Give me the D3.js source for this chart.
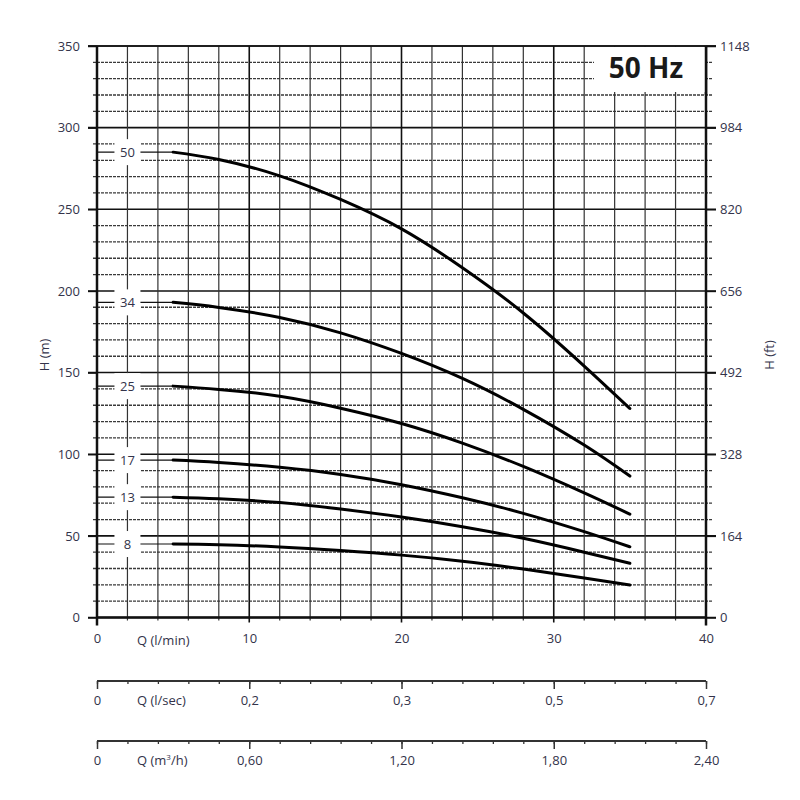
<!DOCTYPE html>
<html>
<head>
<meta charset="utf-8">
<script src="https://cdn.jsdelivr.net/npm/d3@7"></script>
<style>
  body { margin: 0; background: #fff; }
  svg { font-family: "Open Sans", "Noto Sans", sans-serif; }
</style>
</head>
<body>
<svg id="chart"></svg>
<script>
// data
let models = ['50', '34', '25', '17', '13', '8']
let qPoints = [5, 8, 12, 16, 20, 24, 28, 32, 35]
let head50 = [285, 280.5, 270.5, 256, 238, 214.2, 186.5, 154, 128]
let head34 = [193, 189.9, 183.7, 174.3, 161.7, 146.4, 127.5, 105.6, 86.6]
let head25 = [141.7, 139.7, 135.5, 128.2, 118.8, 106.8, 92.5, 76.3, 63.3]
let head17 = [96.4, 95, 92, 87.6, 81.3, 73.3, 63.8, 52.6, 43.3]
let head13 = [73.7, 72.7, 70.4, 66.4, 61.5, 55.6, 48.5, 40, 33.2]
let head8 = [45, 44.6, 43.2, 41, 38.2, 34.5, 29.7, 24.2, 19.9]
let heads = [head50, head34, head25, head17, head13, head8]

let hTicks = [0, 50, 100, 150, 200, 250, 300, 350]
let ftTicks = [0, 164, 328, 492, 656, 820, 984, 1148]
let lminTicks = [0, 10, 20, 30, 40]
let lsecLabels = ['0', '0,2', '0,3', '0,5', '0,7']
let m3hLabels = ['0', '0,60', '1,20', '1,80', '2,40']

let width = 800
let height = 800
let padLeft = 97
let padRight = 706
let padTop = 46
let padBottom = 617.5
let textColor = '#33334a'
let fontSize = '13px'

let svg = d3.select('#chart').attr('width', width).attr('height', height)

let xScale = d3.scaleLinear().domain([0, 40]).range([padLeft, padRight])
let yScale = d3.scaleLinear().domain([0, 350]).range([padBottom, padTop])
let ftScale = d3.scaleLinear().domain([0, 1148]).range([padBottom, padTop])

let minorQ = d3.range(0, 41, 2)
let minorH = d3.range(0, 351, 10)

let drawGrid = () => {
    let g = svg.append('g')

    // horizontal lines, every 10 m, solid every 50 m
    g.selectAll('line.h')
        .data(minorH)
        .enter()
        .append('line')
        .attr('x1', (d) => d % 50 == 0 ? padLeft - 9 : padLeft - 4)
        .attr('x2', (d) => d % 50 == 0 ? padRight + 10 : padRight + 6)
        .attr('y1', (d) => yScale(d))
        .attr('y2', (d) => yScale(d))
        .attr('stroke', (d) => d % 50 == 0 ? '#111' : '#3a3a3a')
        .attr('stroke-width', (d) => d % 50 == 0 ? 1.6 : 1.3)
        .attr('stroke-dasharray', (d) => d % 50 == 0 ? null : '3,1')

    // vertical lines, every 2 l/min
    g.selectAll('line.v')
        .data(minorQ)
        .enter()
        .append('line')
        .attr('x1', (d) => xScale(d))
        .attr('x2', (d) => xScale(d))
        .attr('y1', padTop)
        .attr('y2', (d) => d % 10 == 0 ? padBottom + 5 : padBottom + 3)
        .attr('stroke', (d) => d % 10 == 0 ? '#111' : '#333')
        .attr('stroke-width', (d) => d % 10 == 0 ? 1.6 : 1.2)

    // frame
    g.append('line').attr('x1', padLeft).attr('x2', padLeft).attr('y1', padTop).attr('y2', padBottom + 8)
        .attr('stroke', '#111').attr('stroke-width', 2.5)
    g.append('line').attr('x1', padRight).attr('x2', padRight).attr('y1', padTop).attr('y2', padBottom + 8)
        .attr('stroke', '#111').attr('stroke-width', 2.5)
    g.append('line').attr('x1', padLeft).attr('x2', padRight).attr('y1', padBottom).attr('y2', padBottom)
        .attr('stroke', '#111').attr('stroke-width', 2.5)
}

let styleAxis = (g) => {
    g.selectAll('text')
        .style('font-size', fontSize)
        .style('font-family', '"Open Sans", sans-serif')
        .attr('fill', textColor)
}

let genAxes = () => {
    let yAxis = d3.axisLeft(yScale).tickValues(hTicks).tickSize(9).tickPadding(8)
    let ftAxis = d3.axisRight(ftScale).tickValues(ftTicks).tickSize(10).tickPadding(4)
        .tickFormat(d3.format('d'))

    let ya = svg.append('g').attr('transform', 'translate(' + padLeft + ',0)').call(yAxis)
    let fa = svg.append('g').attr('transform', 'translate(' + padRight + ',0)').call(ftAxis)

    // bottom scale of the grid: labels only, the grid lines make the ticks
    let qa = svg.append('g').attr('transform', 'translate(0,' + padBottom + ')')
        .call(d3.axisBottom(xScale).tickValues(lminTicks).tickSize(0).tickPadding(16))
    qa.select('.domain').remove()
    styleAxis(qa)

    let qAxes = [
        { y: 681, labels: lsecLabels },
        { y: 741, labels: m3hLabels }
    ]

    qAxes.forEach((a) => {
        let minor = d3.axisBottom(xScale).tickValues(minorQ).tickSize(3).tickFormat('')
        let major = d3.axisBottom(xScale).tickValues(lminTicks).tickSize(8).tickPadding(7)
            .tickFormat((d, i) => a.labels[i])
        let gm = svg.append('g').attr('transform', 'translate(0,' + a.y + ')').call(minor)
        let gM = svg.append('g').attr('transform', 'translate(0,' + a.y + ')').call(major)
        gm.select('.domain').remove()
        gM.select('.domain').remove()
        gm.selectAll('line').attr('stroke', '#333').attr('stroke-width', 1.3)
        gM.selectAll('line').attr('stroke', '#333').attr('stroke-width', 1.5)
        svg.append('line')
            .attr('x1', padLeft).attr('x2', padRight)
            .attr('y1', a.y).attr('y2', a.y)
            .attr('stroke', '#333').attr('stroke-width', 2)
        styleAxis(gM)
    })

    ya.select('.domain').remove()
    fa.select('.domain').remove()
    ya.selectAll('line').attr('stroke', '#111').attr('stroke-width', 1.5)
    fa.selectAll('line').attr('stroke', '#111').attr('stroke-width', 1.5)
    styleAxis(ya)
    styleAxis(fa)
}

let drawCurves = () => {
    let line = d3.line()
        .x((d) => xScale(d[0]))
        .y((d) => yScale(d[1]))
        .curve(d3.curveNatural)

    let g = svg.append('g')

    // thin lead-in lines from the frame to the first point
    g.selectAll('line.lead')
        .data(heads)
        .enter()
        .append('line')
        .attr('x1', padLeft)
        .attr('x2', (d) => xScale(qPoints[0]))
        .attr('y1', (d) => yScale(d[0]))
        .attr('y2', (d) => yScale(d[0]))
        .attr('stroke', '#111')
        .attr('stroke-width', 1.2)

    // white patches behind the model numbers
    g.selectAll('rect.lab')
        .data(heads)
        .enter()
        .append('rect')
        .attr('x', xScale(2) - 13)
        .attr('y', (d) => yScale(d[0]) - 13)
        .attr('width', 26)
        .attr('height', 26)
        .attr('fill', '#fff')

    g.selectAll('text.lab')
        .data(models)
        .enter()
        .append('text')
        .attr('x', xScale(2))
        .attr('y', (d, i) => yScale(heads[i][0]))
        .attr('dy', '0.35em')
        .attr('text-anchor', 'middle')
        .style('font-size', fontSize)
        .attr('fill', textColor)
        .text((d) => d)

    g.selectAll('path.curve')
        .data(heads)
        .enter()
        .append('path')
        .attr('d', (d) => line(d.map((h, i) => [qPoints[i], h])))
        .attr('fill', 'none')
        .attr('stroke', '#000')
        .attr('stroke-width', 3)
        .attr('stroke-linecap', 'round')
}

let genText = () => {
    // 50 Hz box
    svg.append('rect')
        .attr('x', 594).attr('y', padTop + 1)
        .attr('width', padRight - 595).attr('height', 45)
        .attr('fill', '#fff')
    svg.append('line').attr('x1', padLeft - 9).attr('x2', padRight + 10).attr('y1', padTop).attr('y2', padTop)
        .attr('stroke', '#111').attr('stroke-width', 1.5)
    svg.append('line').attr('x1', padRight).attr('x2', padRight).attr('y1', padTop).attr('y2', 95)
        .attr('stroke', '#111').attr('stroke-width', 2.5)
    svg.append('text')
        .attr('x', 646).attr('y', 78)
        .attr('text-anchor', 'middle')
        .style('font-size', '28px')
        .style('font-weight', 700)
        .attr('fill', '#1a1a1a')
        .text('50 Hz')

    svg.append('text')
        .attr('transform', 'translate(49,355) rotate(-90)')
        .attr('text-anchor', 'middle')
        .style('font-size', fontSize)
        .attr('fill', textColor)
        .text('H (m)')
    svg.append('text')
        .attr('transform', 'translate(774,355) rotate(-90)')
        .attr('text-anchor', 'middle')
        .style('font-size', fontSize)
        .attr('fill', textColor)
        .text('H (ft)')

    let qNames = [
        { y: 645, t: 'Q (l/min)' },
        { y: 705, t: 'Q (l/sec)' },
        { y: 765, t: null }
    ]
    qNames.forEach((q) => {
        let t = svg.append('text')
            .attr('x', 137).attr('y', q.y)
            .style('font-size', fontSize)
            .attr('fill', textColor)
        if (q.t) {
            t.text(q.t)
        } else {
            t.text('Q (m')
            t.append('tspan').attr('dy', -5).style('font-size', '8px').text('3')
            t.append('tspan').attr('dy', 5).text('/h)')
        }
    })
}

drawGrid()
drawCurves()
genAxes()
genText()
</script>
</body>
</html>
